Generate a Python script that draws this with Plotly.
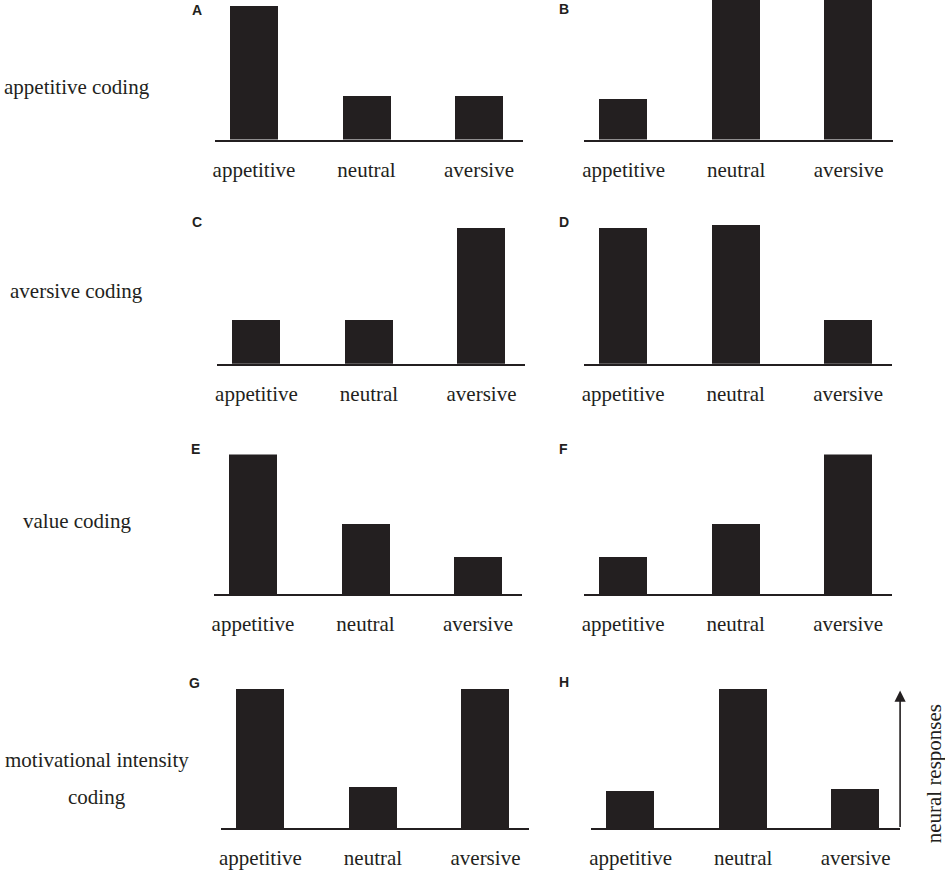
import plotly.graph_objects as go

# =========================
# DATOS
# =========================
categories = ["appetitive", "neutral", "aversive"]

panel_letters = ["A", "B", "C", "D", "E", "F", "G", "H"]

# respuesta neuronal relativa (100 = respuesta maxima)
resp_a = [96, 31, 31]
resp_b = [29, 100, 100]
resp_c = [31, 31, 97]
resp_d = [97, 99, 31]
resp_e = [100, 50, 26]
resp_f = [26, 50, 100]
resp_g = [100, 30, 100]
resp_h = [27, 100, 28]

row_labels = ["appetitive coding", "aversive coding", "value coding",
              "motivational intensity", "coding"]

arrow_label = "neural responses"

# =========================
# POSICIONES (pixeles)
# =========================
W, H = 945, 870
ink = "#231f20"
serif = "Liberation Serif, Times New Roman, serif"
sans = "Liberation Sans, Arial, sans-serif"

spacing = 112.75
x_left, x_right = -0.35, 2.39
first_center = [252.5, 623, 255, 622.5, 251.5, 622.5, 259, 630]
baselines = [140, 365, 596, 831]
bar_px = 140                       # altura de 100 unidades
letter_pos = [(195, 10), (563, 9), (195, 223), (563, 223),
              (194, 451), (563, 451), (193, 685), (563, 684)]
row_label_pos = [(75, 87), (75, 292), (75, 523), (95, 763), (95, 800)]

all_resp = [resp_a, resp_b, resp_c, resp_d, resp_e, resp_f, resp_g, resp_h]

fig = go.Figure()
layout = {}

for i, vals in enumerate(all_resp):
    n = i + 1
    row = i // 2
    c1 = first_center[i]
    x0 = (c1 + x_left * spacing) / W
    x1 = (c1 + x_right * spacing) / W
    base = baselines[row]
    y0 = 1 - base / H
    y1 = min(1, 1 - (base - bar_px) / H)

    fig.add_trace(go.Bar(
        x=categories, y=vals,
        xaxis=f"x{n}", yaxis=f"y{n}",
        width=0.425,
        marker=dict(color=ink, line=dict(width=0)),
        showlegend=False,
        hoverinfo="x+y",
    ))

    layout[f"xaxis{n}"] = dict(
        domain=[x0, x1], anchor=f"y{n}",
        type="category", range=[x_left, x_right],
        showline=True, linecolor=ink, linewidth=2,
        showgrid=False, zeroline=False, ticks="",
        ticklabelstandoff=10,
        tickfont=dict(family=serif, size=21, color=ink),
        fixedrange=True,
    )
    layout[f"yaxis{n}"] = dict(
        domain=[y0, y1], anchor=f"x{n}",
        range=[0, 100], visible=False, fixedrange=True,
    )

fig.update_layout(**layout)

# letras de panel
for (px, py), letter in zip(letter_pos, panel_letters):
    fig.add_annotation(
        x=px / W, y=1 - py / H, xref="paper", yref="paper",
        text=f"<b>{letter}</b>", showarrow=False,
        xanchor="center", yanchor="middle",
        font=dict(family=sans, size=14, color=ink),
    )

# etiquetas de fila
for (px, py), lab in zip(row_label_pos, row_labels):
    fig.add_annotation(
        x=px / W, y=1 - py / H, xref="paper", yref="paper",
        text=lab, showarrow=False, align="center",
        xanchor="center", yanchor="middle",
        font=dict(family=serif, size=21, color=ink),
    )

# flecha "neural responses"
fig.add_annotation(
    x=900 / W, y=1 - 693 / H, xref="paper", yref="paper",
    ax=0, ay=138, axref="pixel", ayref="pixel",
    text="", showarrow=True, arrowhead=2, arrowsize=1.4,
    arrowwidth=1.6, arrowcolor=ink,
)
fig.add_annotation(
    x=934 / W, y=1 - 777 / H, xref="paper", yref="paper",
    text=arrow_label, showarrow=False, textangle=-90,
    xanchor="center", yanchor="middle",
    font=dict(family=serif, size=21, color=ink),
)

fig.update_layout(
    width=W, height=H,
    margin=dict(l=0, r=0, t=0, b=0),
    paper_bgcolor="white", plot_bgcolor="white",
    bargap=0,
)

# quitar el margen del body para que la figura quede en (0, 0)
fig.write_html("out.html",
               config={"displayModeBar": False},
               post_script="document.body.style.margin='0';"
                           "document.body.style.overflow='hidden';")
